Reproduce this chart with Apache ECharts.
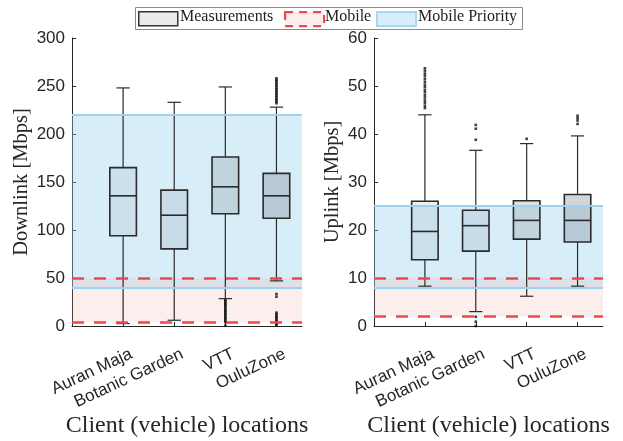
<!DOCTYPE html>
<html>
<head>
<meta charset="utf-8">
<script src="https://cdn.jsdelivr.net/npm/echarts@6/dist/echarts.min.js"></script>
<style>html,body{margin:0;padding:0;background:#fff}#c{width:623px;height:441px}</style>
</head>
<body>
<div id="c"></div>
<script>
// ---------- data ----------
const locations = ['Auran Maja', 'Botanic Garden', 'VTT', 'OuluZone'];
// [lower whisker, Q1, median, Q3, upper whisker] per location
const downlinkStats = [
  [2.5, 94, 135.6, 165, 248],
  [6, 80.3, 115.4, 141.5, 233],
  [28.5, 117, 145, 176, 249],
  [47, 112.3, 135.6, 159, 228]
];
const uplinkStats = [
  [8.3, 13.8, 19.7, 26, 44],
  [3, 15.6, 20.9, 24.1, 36.6],
  [6.2, 18.1, 22, 26.1, 38],
  [8.3, 17.5, 22, 27.4, 39.6]
];
// outliers: [location number (1-4), value]
const downlinkOutliers = [
  [3, 27], [3, 25.8], [3, 24.3], [3, 22.9], [3, 21.5], [3, 20.2], [3, 18.6], [3, 17.1], [3, 15.7],
  [3, 14.2], [3, 12.8], [3, 11.3], [3, 9.9], [3, 8.4], [3, 7], [3, 5.5], [3, 4.1], [3, 0.3],
  [4, 232], [4, 233.6], [4, 235.2], [4, 236.8], [4, 238.5], [4, 240.1], [4, 241.7], [4, 243.3],
  [4, 245], [4, 246.6], [4, 248.2], [4, 249.9], [4, 251.5], [4, 253.1], [4, 254.8], [4, 256.4], [4, 258],
  [4, 33.3], [4, 30.5], [4, 13.9], [4, 12.4], [4, 10.9], [4, 9.4], [4, 7.9], [4, 6.4], [4, 4.9], [4, 3.4], [4, 1.9], [4, 1]
];
const uplinkOutliers = [
  [1, 45.4], [1, 45.9], [1, 46.5], [1, 47], [1, 47.6], [1, 48.1], [1, 48.7], [1, 49.2], [1, 49.8],
  [1, 50.3], [1, 50.9], [1, 51.5], [1, 52.1], [1, 52.6], [1, 53.2], [1, 53.7],
  [2, 41.9], [2, 41.1], [2, 38.8], [2, 1.9], [2, 0.9], [2, 0],
  [3, 39],
  [4, 43.8], [4, 43.3], [4, 42.8], [4, 42.1]
];
// requirement bands: [low, high]
const downlinkMobile = [4, 50];
const downlinkPriority = [40, 220];
const uplinkMobile = [2, 10];
const uplinkPriority = [8, 25];
const downlinkTicks = { min: 0, max: 300, interval: 50 };
const uplinkTicks = { min: 0, max: 60, interval: 10 };

// ---------- styles ----------
const boxFills = ['rgba(120,130,140,0.13)', 'rgba(120,130,140,0.16)', 'rgba(120,130,140,0.24)', 'rgba(120,130,140,0.33)'];
const ink = '#262626';
const sans = 'Liberation Sans';
const serif = 'Liberation Serif';

function boxData(stats) {
  return stats.map((s, i) => [i + 1].concat(s));
}

function renderBox(params, api) {
  const x = api.value(0);
  const lo = api.value(1), q1 = api.value(2), med = api.value(3), q3 = api.value(4), hi = api.value(5);
  const hw = api.size([0.26, 0])[0];
  const cw = api.size([0.13, 0])[0];
  const pLo = api.coord([x, lo]), pQ1 = api.coord([x, q1]), pMed = api.coord([x, med]);
  const pQ3 = api.coord([x, q3]), pHi = api.coord([x, hi]);
  const cx = pLo[0];
  const line = { stroke: '#2b2b2b', lineWidth: 1.2 };
  return {
    type: 'group',
    children: [
      { type: 'line', shape: { x1: cx, y1: pHi[1], x2: cx, y2: pQ3[1] }, style: line },
      { type: 'line', shape: { x1: cx, y1: pQ1[1], x2: cx, y2: pLo[1] }, style: line },
      { type: 'line', shape: { x1: cx - cw, y1: pHi[1], x2: cx + cw, y2: pHi[1] }, style: line },
      { type: 'line', shape: { x1: cx - cw, y1: pLo[1], x2: cx + cw, y2: pLo[1] }, style: line },
      { type: 'rect', shape: { x: cx - hw, y: pQ3[1], width: 2 * hw, height: pQ1[1] - pQ3[1] },
        style: { fill: boxFills[params.dataIndex], stroke: '#2b2b2b', lineWidth: 1.6 } },
      { type: 'line', shape: { x1: cx - hw, y1: pMed[1], x2: cx + hw, y2: pMed[1] },
        style: { stroke: '#2b2b2b', lineWidth: 1.6 } }
    ]
  };
}

function bandSeries(idx, mobile, priority) {
  return [
    {
      type: 'line', xAxisIndex: idx, yAxisIndex: idx, data: [], silent: true, z: 1,
      markArea: {
        silent: true,
        data: [
          [{ yAxis: priority[0], itemStyle: { color: 'rgba(150,210,240,0.38)' } }, { yAxis: priority[1] }],
          [{ yAxis: mobile[0], itemStyle: { color: 'rgba(245,170,170,0.2)' } }, { yAxis: mobile[1] }]
        ]
      }
    },
    {
      type: 'line', xAxisIndex: idx, yAxisIndex: idx, data: [], silent: true, z: 2,
      markLine: {
        silent: true, symbol: 'none', label: { show: false },
        data: [
          { yAxis: priority[0], lineStyle: { color: '#9ed2ef', width: 2, type: 'solid' } },
          { yAxis: priority[1], lineStyle: { color: '#9ed2ef', width: 2, type: 'solid' } },
          { yAxis: mobile[0], lineStyle: { color: '#f2454e', width: 2.6, type: [12, 10] } },
          { yAxis: mobile[1], lineStyle: { color: '#f2454e', width: 2.6, type: [12, 10] } }
        ]
      }
    }
  ];
}

function xAxisCfg(idx) {
  return {
    gridIndex: idx, type: 'value', min: 0, max: 4.5, interval: 1,
    axisLine: { show: true, lineStyle: { color: ink, width: 1 } },
    axisTick: { show: true, inside: true, length: 4, lineStyle: { color: ink } },
    splitLine: { show: false },
    axisLabel: {
      rotate: 25, margin: 31, fontSize: 17, fontFamily: sans, color: ink,
      padding: [0, -9, 0, 0],
      showMaxLabel: false,
      formatter: v => (Number.isInteger(v) && v >= 1 && v <= locations.length) ? locations[v - 1] : ''
    },
    name: 'Client (vehicle) locations', nameLocation: 'middle', nameGap: 88,
    nameMoveOverlap: false,
    nameTextStyle: { fontFamily: serif, fontSize: 24, color: ink }
  };
}

function yAxisCfg(idx, ticks, name, gap) {
  return {
    gridIndex: idx, type: 'value', min: ticks.min, max: ticks.max, interval: ticks.interval,
    axisLine: { show: true, lineStyle: { color: ink, width: 1 } },
    axisTick: { show: true, inside: true, length: 4, lineStyle: { color: ink } },
    splitLine: { show: false },
    axisLabel: { fontSize: 17, fontFamily: sans, color: ink, margin: 7 },
    name: name, nameLocation: 'middle', nameGap: gap, nameMoveOverlap: false,
    nameTextStyle: { fontFamily: serif, fontSize: 20.5, color: ink }
  };
}

// legend drawn with graphic elements
const legendItems = [
  { label: 'Measurements', x: 138, tx: 180, fill: '#ebebeb', stroke: '#333', dash: null, lw: 1.5 },
  { label: 'Mobile', x: 284, tx: 325, fill: '#fdeeee', stroke: '#f2454e', dash: [8, 6], lw: 2.2 },
  { label: 'Mobile Priority', x: 376, tx: 418, fill: '#d8eef9', stroke: '#a6d8f2', dash: null, lw: 2 }
];
const graphic = [
  { type: 'rect', left: 135, top: 7, shape: { width: 387, height: 22 }, style: { fill: '#fff', stroke: '#8a8a8a', lineWidth: 1 }, z: 10 }
];
legendItems.forEach(it => {
  graphic.push({ type: 'rect', left: it.x, top: 11, shape: { width: 39, height: 14 },
    style: { fill: it.fill, stroke: it.stroke, lineWidth: it.lw, lineDash: it.dash }, z: 11 });
  graphic.push({ type: 'text', left: it.tx, top: 9,
    style: { text: it.label, font: '16px "Liberation Serif"', fill: '#222' }, z: 11 });
});

const chart = echarts.init(document.getElementById('c'), null, { renderer: 'canvas' });
chart.setOption({
  animation: false,
  backgroundColor: '#fff',
  grid: [
    { left: 72, right: 321, top: 38, bottom: 115, outerBoundsMode: 'none', containLabel: false },
    { left: 374, right: 20, top: 38, bottom: 115, outerBoundsMode: 'none', containLabel: false }
  ],
  xAxis: [xAxisCfg(0), xAxisCfg(1)],
  yAxis: [
    yAxisCfg(0, downlinkTicks, 'Downlink [Mbps]', 40),
    yAxisCfg(1, uplinkTicks, 'Uplink [Mbps]', 31)
  ],
  graphic: graphic,
  series: [].concat(
    bandSeries(0, downlinkMobile, downlinkPriority),
    bandSeries(1, uplinkMobile, uplinkPriority),
    [
      { type: 'custom', xAxisIndex: 0, yAxisIndex: 0, z: 3, renderItem: renderBox, data: boxData(downlinkStats), encode: { x: 0, y: [1, 2, 3, 4, 5] } },
      { type: 'custom', xAxisIndex: 1, yAxisIndex: 1, z: 3, renderItem: renderBox, data: boxData(uplinkStats), encode: { x: 0, y: [1, 2, 3, 4, 5] } },
      { type: 'scatter', xAxisIndex: 0, yAxisIndex: 0, z: 4, symbol: 'rect', symbolSize: [2.6, 2.6], itemStyle: { color: '#111' }, data: downlinkOutliers },
      { type: 'scatter', xAxisIndex: 1, yAxisIndex: 1, z: 4, symbol: 'rect', symbolSize: [2.6, 2.6], itemStyle: { color: '#111' }, data: uplinkOutliers }
    ]
  )
});
</script>
</body>
</html>
